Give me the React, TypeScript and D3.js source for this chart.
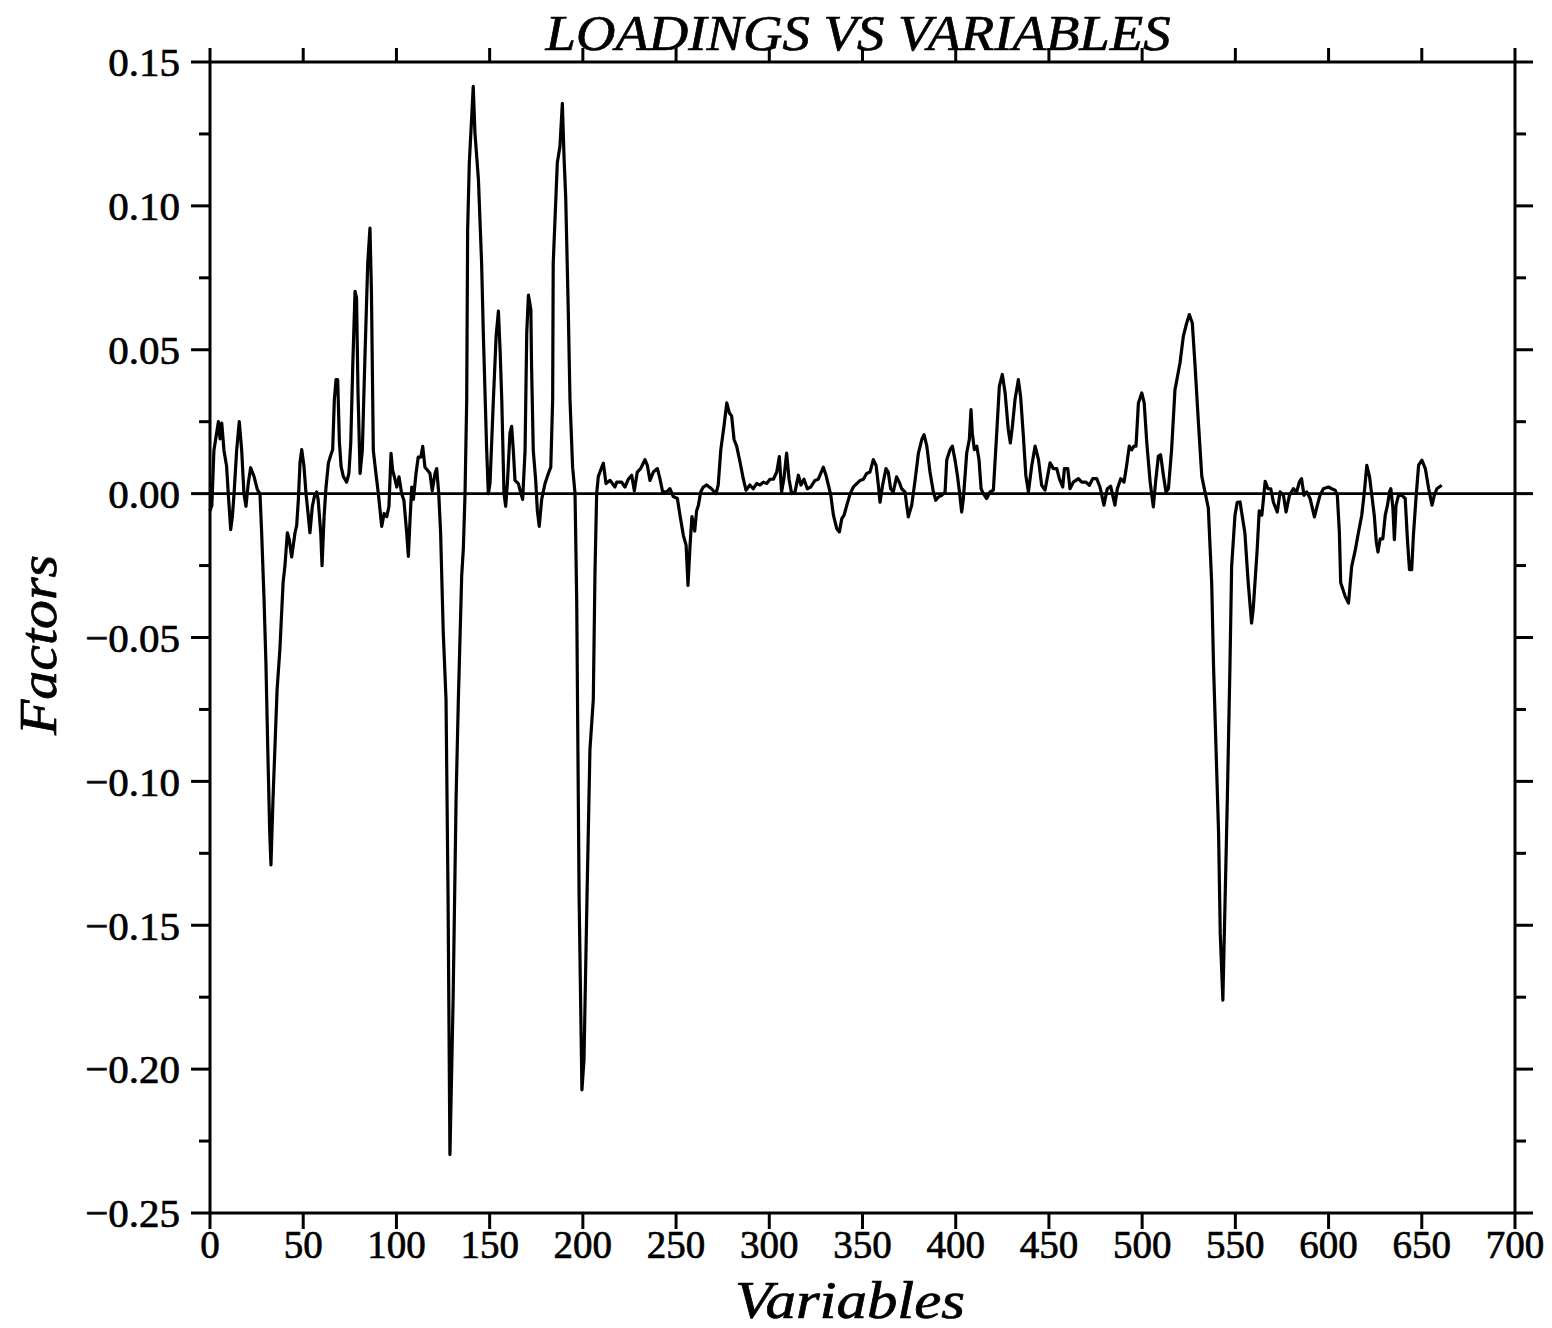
import React from "react";
import * as d3 from "d3";

// Variable index (x) and factor loading (y)
const variableIdx: number[] = [
  0, 1, 2.1, 4.5, 5.4, 6.3, 7.5, 8.9, 9.8, 11.1, 12, 12.9, 14.3, 15.7, 17, 18.2, 19.3, 20.5, 21.8, 23.6,
  25.4, 26.8, 27.7, 29, 30, 31, 32, 32.7, 33.8, 36, 37.5, 39.2, 40.2, 41.5, 42.5, 43.8, 45.6, 46.5, 47.4, 48.3,
  49.2, 50.4, 51.5, 52.6, 53.6, 54.9, 56, 57.2, 58, 59.4, 60.1, 61.2, 62.2, 63.5, 64.6, 65.8, 66.7, 67.6, 68.5, 69.4,
  70.3, 71.5, 73.3, 74.5, 75.5, 76.6, 77.8, 78.6, 79.4, 80.5, 81.7, 83, 84.6, 85.8, 86.6, 87.6, 89, 90.3, 92.1, 93.4,
  94.8, 96, 97.1, 98, 98.9, 100.2, 101.4, 102.8, 104, 105.5, 106.4, 107.3, 108.2, 109.1, 110.5, 111.7, 113.1, 114.1, 115.3, 116.8,
  118, 119.2, 120.7, 121.6, 122.7, 123.7, 125.1, 126.6, 127.7, 128.7, 130.4, 132, 133.2, 135, 135.9, 136.8, 137.7, 138.2, 139.1, 140.3,
  141.2, 142.1, 144, 145.7, 146.6, 148.4, 149.3, 150.2, 152, 153.5, 154.7, 155.6, 156.5, 157.7, 158.6, 159.5, 160.9, 161.8, 162.7, 163.6,
  165.4, 166.8, 167.7, 169, 169.9, 170.8, 172.1, 172.5, 173.4, 174.7, 175.6, 176.6, 177.9, 179.7, 181.5, 182.8, 183.8, 184.1, 186.3, 187.7,
  189, 189.9, 190.8, 192.2, 193.1, 194.5, 195.8, 196.7, 198, 199.5, 200.6, 202.2, 203.8, 205.6, 206.5, 207.4, 208.3, 211, 212.4, 214.6,
  217.2, 218.2, 220.8, 222.6, 224.4, 226.2, 227.6, 229.2, 231, 233.3, 234.6, 236, 237.8, 240, 241.4, 242.8, 245, 246.7, 248.5, 250.7,
  252.1, 253.9, 255.4, 256.4, 257.5, 258.5, 260, 261, 262, 263.2, 264.6, 266.4, 269, 271.4, 272.6, 274, 275.7, 277.2, 278.6, 279.8,
  281.1, 282.5, 284.3, 286.1, 287.5, 289.6, 291.4, 293.2, 295, 296.8, 298.6, 300.4, 302.2, 304, 305.4, 306.6, 307.8, 309.3, 310.6, 312,
  313.8, 315.6, 317, 318.6, 320.4, 322.2, 324.5, 326.3, 329, 330.4, 331.7, 333, 334.4, 336.2, 337.6, 338.9, 340.1, 341.6, 343.4, 345.1,
  346.9, 348.7, 350.5, 352.2, 354, 355.8, 357.3, 358.5, 359.4, 360.8, 362.6, 363.8, 365.1, 366.5, 368.3, 369.7, 371, 372.8, 373.7, 374.6,
  376.4, 378.2, 380, 381.8, 383, 384.5, 386.2, 388, 389.3, 390.7, 392.5, 394.3, 395.2, 397, 398.2, 399.6, 400.9, 402, 403.2, 404.1,
  405.9, 407.3, 408.2, 408.9, 410, 411.3, 412.5, 413.6, 414.8, 416.6, 418.4, 420.2, 422, 423.4, 425, 426.5, 428.2, 429.3, 430.4, 431.8,
  433.6, 434.8, 436.3, 437.6, 439, 440.8, 442.6, 444.4, 446.1, 447.9, 450.6, 452.4, 454.2, 455.6, 457.4, 458.3, 460.1, 461.3, 463.1, 465.8,
  467.6, 469.9, 471.7, 473.5, 475.6, 477.4, 479.5, 481.3, 483.1, 485.4, 486.7, 488.5, 490.3, 491.7, 493.1, 494.4, 495.6, 496.7, 498, 499.8,
  501.1, 502.5, 504.3, 505.2, 506, 507.2, 508.7, 509.9, 511.4, 512.8, 514.1, 515.8, 517.6, 520.3, 522.1, 523.9, 525.3, 526.9, 528.4, 530.2,
  532, 533.7, 535.5, 537.3, 538.3, 541, 541.9, 543.3, 544.5, 545.7, 547.1, 548, 549.8, 551, 552.5, 555.1, 556.9, 558.7, 559.6, 561.7,
  562.8, 564.2, 566, 567.5, 569, 570.4, 572.5, 574, 575.8, 577.2, 579, 581.1, 582.9, 584.3, 585.5, 586.8, 588.3, 590.1, 592.4, 594,
  595.4, 597.2, 599.9, 601.7, 603.5, 604.7, 605.8, 606.5, 608.9, 610.7, 612.4, 614.2, 616, 617.8, 619.2, 620.5, 622, 623.2, 624.5, 625.6,
  626.5, 627.7, 629.1, 630.4, 631.6, 632.7, 633.4, 634.5, 635.3, 636.2, 637.5, 639.3, 641.1, 642.3, 643.4, 644.6, 645.5, 647, 648.3, 650.1,
  651.9, 653.7, 655.5, 656.7, 658.1, 660.7,
];

const loadings: number[] = [
  -0.006, -0.004, 0.015, 0.025, 0.019, 0.0245, 0.015, 0.0095, 0, -0.0125, -0.008, 0, 0.015, 0.025, 0.015, 0, -0.0044, 0.0035, 0.009, 0.006,
  0.0014, 0, -0.0135, -0.037, -0.059, -0.089, -0.117, -0.129, -0.106, -0.068, -0.054, -0.031, -0.025, -0.0136, -0.016, -0.022, -0.0136, -0.011, -0.002, 0.011,
  0.0153, 0.0095, 0, -0.0069, -0.0136, -0.0044, -0.001, 0.0006, -0.002, -0.0136, -0.025, -0.008, 0.002, 0.0106, 0.013, 0.0153, 0.0326, 0.0396, 0.0396, 0.018,
  0.0095, 0.006, 0.004, 0.007, 0.0175, 0.045, 0.0703, 0.068, 0.035, 0.007, 0.015, 0.045, 0.08, 0.0923, 0.07, 0.015, 0.007, 0, -0.0114, -0.0069,
  -0.008, -0.0044, 0.014, 0.008, 0.0058, 0.0023, 0.0058, 0, -0.0023, -0.0136, -0.0218, -0.009, 0.0023, -0.002, 0.007, 0.0127, 0.0127, 0.0164, 0.0092, 0.008,
  0.007, 0.001, 0.007, 0.0087, 0, -0.0136, -0.048, -0.0716, -0.141, -0.2297, -0.176, -0.106, -0.072, -0.0287, -0.019, 0, 0.0326, 0.0917, 0.115, 0.13,
  0.1415, 0.1255, 0.109, 0.08, 0.0558, 0.0153, 0, 0.0035, 0.0326, 0.055, 0.0634, 0.05, 0.0326, 0, -0.0044, 0.0035, 0.021, 0.0234, 0.015, 0.0046,
  0.0035, 0, -0.002, 0.015, 0.0558, 0.069, 0.064, 0.044, 0.015, 0.0046, -0.006, -0.0114, -0.002, 0.0035, 0.007, 0.0092, 0.0326, 0.08, 0.115, 0.1206,
  0.1356, 0.117, 0.103, 0.0628, 0.0326, 0.0092, 0, -0.037, -0.141, -0.2072, -0.197, -0.141, -0.089, -0.0716, -0.0275, 0, 0.006, 0.0106, 0.0035, 0.0046,
  0.0023, 0.004, 0.004, 0.0023, 0.005, 0.0064, 0.001, 0.0075, 0.0087, 0.0118, 0.0098, 0.0046, 0.0075, 0.0087, 0.005, 0.0006, 0.0006, 0.0017, -0.001, -0.0017,
  -0.0075, -0.0145, -0.018, -0.0319, -0.018, -0.008, -0.013, -0.006, -0.004, 0.0006, 0.0023, 0.003, 0.0017, 0, 0.003, 0.0153, 0.0234, 0.0315, 0.028, 0.027,
  0.0188, 0.0165, 0.011, 0.005, 0.0012, 0.003, 0.0017, 0.0035, 0.003, 0.004, 0.0035, 0.005, 0.005, 0.0075, 0.0129, 0.0006, 0.005, 0.0141, 0.005, 0,
  0.0006, 0.0064, 0.003, 0.005, 0.0017, 0.0023, 0.0046, 0.005, 0.0092, 0.0064, 0.003, -0.0006, -0.0075, -0.0122, -0.0133, -0.0087, -0.0075, -0.004, 0, 0.0023,
  0.0035, 0.0046, 0.005, 0.007, 0.0075, 0.0118, 0.0098, 0.003, -0.003, 0.003, 0.0087, 0.0075, 0.0017, 0.0006, 0.0058, 0.004, 0.0017, 0.0006, -0.004, -0.0081,
  -0.004, 0.0046, 0.0141, 0.0188, 0.0205, 0.0165, 0.0075, 0.0006, -0.0023, -0.0012, -0.0006, 0.0006, 0.0118, 0.0153, 0.0165, 0.0118, 0.0064, 0.0006, -0.0064, -0.0017,
  0.0141, 0.0188, 0.0292, 0.021, 0.0153, 0.0165, 0.0118, 0.0017, 0, -0.0017, 0.0006, 0.0012, 0.0211, 0.0373, 0.0414, 0.035, 0.0222, 0.0176, 0.0234, 0.0326,
  0.0396, 0.0338, 0.0199, 0.0064, 0.0006, 0.0098, 0.0165, 0.0118, 0.0029, 0.0012, 0.0107, 0.0087, 0.0087, 0.0052, 0.0023, 0.0087, 0.0087, 0.0017, 0.004, 0.0052,
  0.004, 0.004, 0.0029, 0.0052, 0.0052, 0.0023, -0.004, 0.0017, 0.0026, -0.004, 0.0017, 0.0052, 0.004, 0.0099, 0.0165, 0.0152, 0.0165, 0.0165, 0.0315, 0.035,
  0.0315, 0.0176, 0.004, -0.0006, -0.0046, 0.004, 0.013, 0.0135, 0.0064, 0.0006, 0.0017, 0.0153, 0.036, 0.0454, 0.0547, 0.0593, 0.0622, 0.0593, 0.0442, 0.0245,
  0.006, 0.0006, -0.005, -0.031, -0.06, -0.118, -0.153, -0.176, -0.141, -0.106, -0.06, -0.0253, -0.0075, -0.003, -0.0029, -0.0136, -0.031, -0.045, -0.04, -0.0195,
  -0.006, -0.0075, 0.0043, 0.0017, 0.0017, -0.003, -0.0064, 0.0006, -0.0006, -0.0064, -0.0006, 0.0017, 0.0006, 0.004, 0.0052, -0.0006, 0.0006, -0.0017, -0.0081, -0.004,
  -0.0006, 0.0017, 0.0023, 0.0017, 0.0012, -0.0006, -0.0136, -0.031, -0.0357, -0.038, -0.0253, -0.02, -0.0136, -0.0075, 0.0006, 0.0098, 0.0058, -0.0006, -0.0075, -0.0168,
  -0.0203, -0.0157, -0.0157, -0.0075, -0.004, 0.0006, 0.0017, -0.005, -0.016, -0.004, -0.0006, -0.0006, -0.0017, -0.016, -0.0264, -0.0264, -0.0145, -0.0006, 0.0099, 0.0116,
  0.0087, 0.0017, -0.004, -0.0006, 0.0017, 0.0029,
];

const xTickValues: number[] = [0, 50, 100, 150, 200, 250, 300, 350, 400, 450, 500, 550, 600, 650, 700];
const yTickValues: number[] = [-0.25, -0.2, -0.15, -0.1, -0.05, 0, 0.05, 0.1, 0.15];
const yMinorValues: number[] = [-0.225, -0.175, -0.125, -0.075, -0.025, 0.025, 0.075, 0.125];

const titleText = "LOADINGS VS VARIABLES";
const xLabelText = "Variables";
const yLabelText = "Factors";

export default function App() {
  const W = 1552;
  const H = 1328;
  const left = 210, right = 1515, top = 62, bottom = 1213;
  const x = d3.scaleLinear().domain([0, 700]).range([left, right]);
  const y = d3.scaleLinear().domain([-0.25, 0.15]).range([bottom, top]);
  const pts: [number, number][] = variableIdx.map((v, i) => [v, loadings[i]]);
  const line = d3
    .line<[number, number]>()
    .x((d) => x(d[0]))
    .y((d) => y(d[1]));
  const fmt = d3.format(".2f");
  const tickFont = "'Liberation Serif', 'Times New Roman', serif";
  const sw = 3;
  const textStroke = { stroke: "#000", strokeWidth: 0.7 };

  return (
    <svg
      width={W}
      height={H}
      style={{ position: "absolute", left: 0, top: 0, display: "block", background: "#fff" }}
    >
      <rect x={0} y={0} width={W} height={H} fill="#fff" />
      {/* frame */}
      <rect x={left} y={top} width={right - left} height={bottom - top} fill="none" stroke="#000" strokeWidth={sw} />
      {/* zero line */}
      <line x1={x(0)} x2={x(700)} y1={y(0)} y2={y(0)} stroke="#000" strokeWidth={2.6} />
      {/* x ticks bottom and top */}
      {xTickValues.map((t) => (
        <g key={"xt" + t}>
          <line x1={x(t)} x2={x(t)} y1={bottom} y2={bottom + 16} stroke="#000" strokeWidth={sw} />
          <line x1={x(t)} x2={x(t)} y1={top} y2={top - 14} stroke="#000" strokeWidth={sw} />
          <text
            x={x(t)}
            y={bottom + 45}
            textAnchor="middle"
            fontFamily={tickFont}
            fontSize={39}
            fill="#000"
            {...textStroke}
          >
            {t}
          </text>
        </g>
      ))}
      {/* y ticks left and right */}
      {yTickValues.map((t) => (
        <g key={"yt" + t}>
          <line x1={left - 19} x2={left} y1={y(t)} y2={y(t)} stroke="#000" strokeWidth={sw} />
          <line x1={right} x2={right + 18} y1={y(t)} y2={y(t)} stroke="#000" strokeWidth={sw} />
          <text
            x={left - 30}
            y={y(t)}
            dy="0.35em"
            textAnchor="end"
            fontFamily={tickFont}
            fontSize={41}
            fill="#000"
            {...textStroke}
          >
            {fmt(t)}
          </text>
        </g>
      ))}
      {yMinorValues.map((t) => (
        <g key={"ym" + t}>
          <line x1={left - 11} x2={left} y1={y(t)} y2={y(t)} stroke="#000" strokeWidth={sw} />
          <line x1={right} x2={right + 11} y1={y(t)} y2={y(t)} stroke="#000" strokeWidth={sw} />
        </g>
      ))}
      {/* data line */}
      <path d={line(pts) || ""} fill="none" stroke="#000" strokeWidth={3.2} strokeLinejoin="round" />
      {/* title */}
      <text
        x={858}
        y={50}
        textAnchor="middle"
        fontFamily={tickFont}
        fontStyle="italic"
        fontSize={50}
        textLength={625}
        lengthAdjust="spacingAndGlyphs"
        fill="#000"
        {...textStroke}
      >
        {titleText}
      </text>
      {/* x label */}
      <text
        x={850}
        y={1318}
        textAnchor="middle"
        fontFamily={tickFont}
        fontStyle="italic"
        fontSize={52}
        textLength={230}
        lengthAdjust="spacingAndGlyphs"
        fill="#000"
        {...textStroke}
      >
        {xLabelText}
      </text>
      {/* y label */}
      <text
        transform={`translate(56, 645) rotate(-90)`}
        textAnchor="middle"
        fontFamily={tickFont}
        fontStyle="italic"
        fontSize={52}
        textLength={180}
        lengthAdjust="spacingAndGlyphs"
        fill="#000"
        {...textStroke}
      >
        {yLabelText}
      </text>
    </svg>
  );
}
